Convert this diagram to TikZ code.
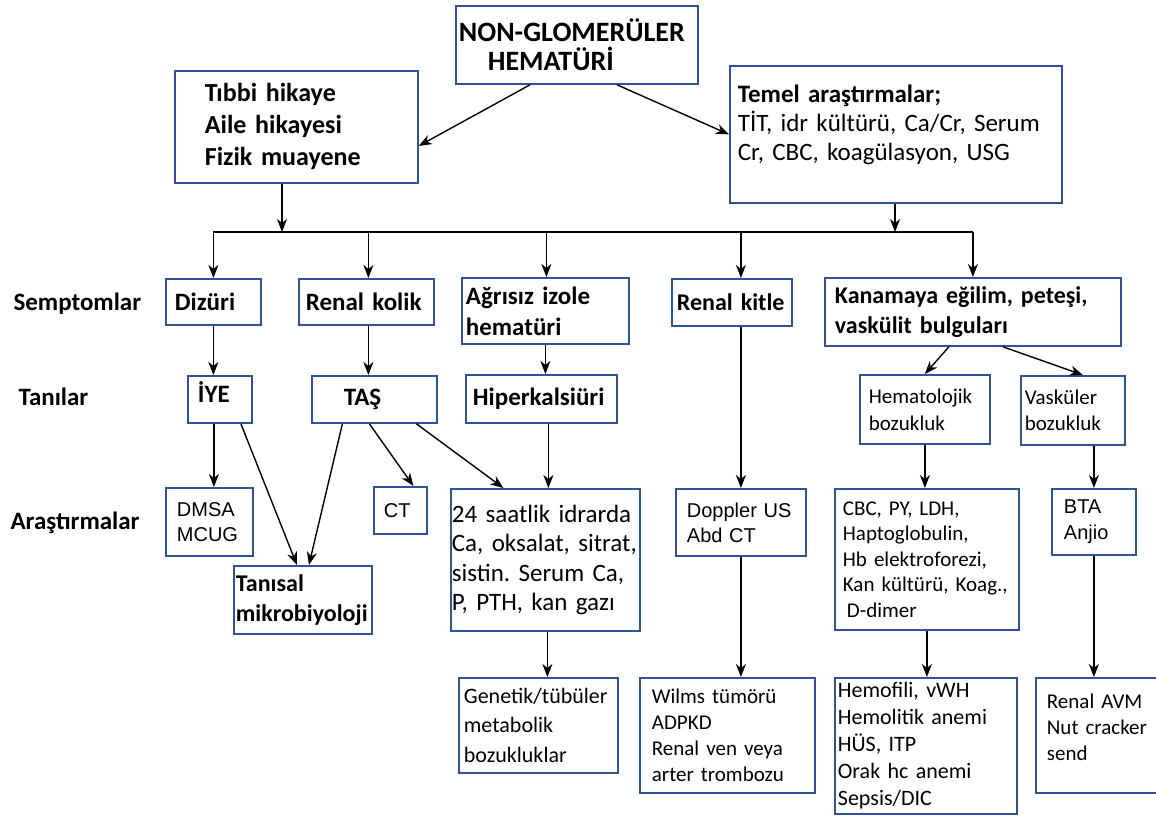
\documentclass[tikz,border=0pt]{standalone}
\usepackage{fontspec}
\setmainfont{Carlito}
\newfontfamily\arialfont{Liberation Sans}
\usetikzlibrary{arrows.meta}
\definecolor{kenar}{RGB}{46,84,150}
\tikzset{boyut/.style n args={3}{minimum width=#1pt, minimum height=#2pt, text width=#1pt-2*#3pt}}
\frenchspacing

\begin{document}
\begin{tikzpicture}[x=1pt, y=-1pt]
  \tikzstyle{kutu}=[draw=kenar, line width=1.8pt, anchor=north west, inner sep=0pt, align=left]
  \tikzstyle{ok}=[-{Stealth[length=13pt, width=10pt, inset=4pt]}, line width=1.4pt]
  \tikzstyle{hat}=[line width=1.4pt]
  \tikzstyle{kalin}=[font=\fontsize{25}{31}\selectfont\bfseries]
  \tikzstyle{etiket}=[kalin, anchor=west]
  \useasboundingbox[fill=white] (0,0) rectangle (1156,818);

  % ust kisim
  \node[kutu, boyut={242}{78}{3}, font=\fontsize{28}{29}\selectfont\bfseries] (kok) at (455,5)
    {NON-GLOMERÜLER\\\hspace*{29pt}HEMATÜRİ};
  \node[kutu, boyut={243}{112}{30}, font=\fontsize{26}{32}\selectfont\bfseries] (oyku) at (174,70)
    {Tıbbi hikaye\\Aile hikayesi\\Fizik muayene};
  \node[kutu, boyut={332}{137}{8}, font=\fontsize{25}{29}\selectfont] (temel) at (729,65)
    {\textbf{Temel araştırmalar;}\\TİT, idr kültürü, Ca/Cr, Serum\\Cr, CBC, koagülasyon, USG\rule[-23pt]{0pt}{1pt}};
  \draw[ok] ([xshift=75pt]kok.south west) -- ([yshift=-19pt]oyku.east);
  \draw[ok] ([xshift=162pt]kok.south west) -- (temel.west);

  % satir basliklari
  \node[etiket] (semptom) at (10,304) {Semptomlar};
  \node[etiket] (tani) at (15,397) {Tanılar};
  \node[etiket] (arastirma) at (7,523) {Araştırmalar};

  % semptomlar
  \node[kutu, kalin, boyut={95}{46}{9}] (dizuri) at (165,278) {Dizüri};
  \node[kutu, kalin, boyut={135}{46}{7}] (kolik) at (298,278) {Renal kolik};
  \node[kutu, kalin, boyut={167}{66}{4}] (agrisiz) at (461,277) {Ağrısız izole\\hematüri};
  \node[kutu, boyut={120}{47}{5}, font=\fontsize{24}{30}\selectfont\bfseries] (kitle) at (671,278) {Renal kitle};
  \node[kutu, boyut={296}{68}{10}, font=\fontsize{24}{30}\selectfont\bfseries] (kanama) at (824,277)
    {Kanamaya eğilim, peteşi,\\vaskülit bulguları};

  \coordinate (bar) at (0,232);
  \draw[ok] ([xshift=108pt]oyku.south west) -- ([xshift=108pt]oyku.south west |- bar);
  \draw[ok] ([xshift=166pt]temel.south west) -- ([xshift=166pt]temel.south west |- bar);
  \draw[hat] (dizuri.north |- bar) -- (kanama.north |- bar);
  \foreach \n/\dx in {dizuri/0, kolik/2, agrisiz/1, kitle/9, kanama/0}
    \draw[ok] ([xshift=\dx pt]\n.north |- bar) -- ([xshift=\dx pt]\n.north);

  % tanilar
  \node[kutu, kalin, boyut={64}{47}{10}] (iye) at (187,375) {İYE\rule[-14pt]{0pt}{1pt}};
  \node[kutu, kalin, boyut={125}{47}{32}] (tas) at (311,375) {TAŞ};
  \node[kutu, kalin, boyut={151}{48}{7}] (hiperk) at (465,374) {Hiperkalsiüri};
  \node[kutu, boyut={130}{69}{9}, font=\fontsize{21}{27}\selectfont] (hemato) at (859,374)
    {Hematolojik\\bozukluk};
  \node[kutu, boyut={104}{69}{4}, font=\fontsize{21}{26}\selectfont] (vaskuler) at (1020,375)
    {Vasküler\\bozukluk};

  \draw[ok] (dizuri.south) -- (dizuri.south |- iye.north);
  \draw[ok] ([xshift=2pt]kolik.south) -- ([xshift=2pt]kolik.south |- tas.north);
  \draw[ok] (agrisiz.south) -- (agrisiz.south |- hiperk.north);
  \draw[ok] ([xshift=-24pt]kanama.south) -- (hemato.north);
  \draw[ok] ([xshift=30pt]kanama.south) -- ([xshift=10pt]vaskuler.north);

  % arastirmalar
  \node[kutu, boyut={87}{68}{11}, font=\arialfont\fontsize{20}{25}\selectfont] (dmsa) at (165,487)
    {DMSA\\MCUG};
  \node[kutu, boyut={53}{47}{10}, font=\arialfont\fontsize{20}{25}\selectfont] (ct) at (373,486) {CT};
  \node[kutu, boyut={138}{68}{2}, font=\fontsize{24}{30}\selectfont\bfseries] (tanisal) at (233,565)
    {Tanısal\\mikrobiyoloji};
  \node[kutu, boyut={189}{142}{1}, font=\fontsize{25}{29.5}\selectfont] (saat24) at (450,488)
    {24 saatlik idrarda\\Ca, oksalat, sitrat,\\sistin. Serum Ca,\\P, PTH, kan gazı};
  \node[kutu, boyut={130}{67}{11}, font=\arialfont\fontsize{20}{25}\selectfont] (doppler) at (675,488)
    {Doppler US\\Abd CT};
  \node[kutu, boyut={184}{141}{8}, font=\fontsize{21}{25.5}\selectfont] (cbc) at (834,488)
    {CBC, PY, LDH,\\Haptoglobulin,\\Hb elektroforezi,\\Kan kültürü, Koag.,\\\hspace*{4pt}D-dimer};
  \node[kutu, boyut={84}{66}{12}, font=\arialfont\fontsize{20}{26}\selectfont] (bta) at (1051,488)
    {BTA\\Anjio};

  \draw[ok] ([xshift=-6pt]iye.south) -- ([xshift=-6pt]iye.south |- dmsa.north);
  \draw[ok] ([xshift=21pt]iye.south) -- ([xshift=-6pt]tanisal.north);
  \draw[ok] ([xshift=-32pt]tas.south) -- ([xshift=6pt]tanisal.north);
  \draw[ok] ([xshift=-5pt]tas.south) -- ([xshift=13pt]ct.north);
  \draw[ok] ([xshift=42pt]tas.south) -- ([xshift=-42pt]saat24.north);
  \draw[ok] ([xshift=7pt]hiperk.south) -- ([xshift=7pt]hiperk.south |- saat24.north);
  \draw[ok] (doppler.north |- kitle.south) -- (doppler.north);
  \draw[ok] (hemato.south) -- (hemato.south |- cbc.north);
  \draw[ok] (bta.north |- vaskuler.south) -- (bta.north);

  % alt satir
  \node[kutu, boyut={159}{95}{5}, font=\fontsize{22}{29.5}\selectfont] (genetik) at (458,677)
    {Genetik/tübüler\\metabolik\\bozukluklar};
  \node[kutu, boyut={175}{115}{12}, font=\fontsize{21}{26}\selectfont] (wilms) at (639,677)
    {Wilms tümörü\\ADPKD\\Renal ven veya\\arter trombozu};
  \node[kutu, boyut={182}{136}{3}, font=\fontsize{22}{27}\selectfont] (hemofili) at (834,677)
    {Hemofili, vWH\\Hemolitik anemi\\HÜS, ITP\\Orak hc anemi\\Sepsis/DIC};
  \node[kutu, boyut={140}{115}{11}, font=\fontsize{21}{26}\selectfont] (avm) at (1035,677)
    {Renal AVM\\Nut cracker\\send\rule[-16pt]{0pt}{1pt}};

  \draw[ok] ([xshift=2pt]saat24.south) -- ([xshift=2pt]saat24.south |- genetik.north);
  \draw[ok] (doppler.south) -- (doppler.south |- wilms.north);
  \draw[ok] (cbc.south) -- (cbc.south |- hemofili.north);
  \draw[ok] (bta.south) -- (bta.south |- avm.north);
\end{tikzpicture}
\end{document}
